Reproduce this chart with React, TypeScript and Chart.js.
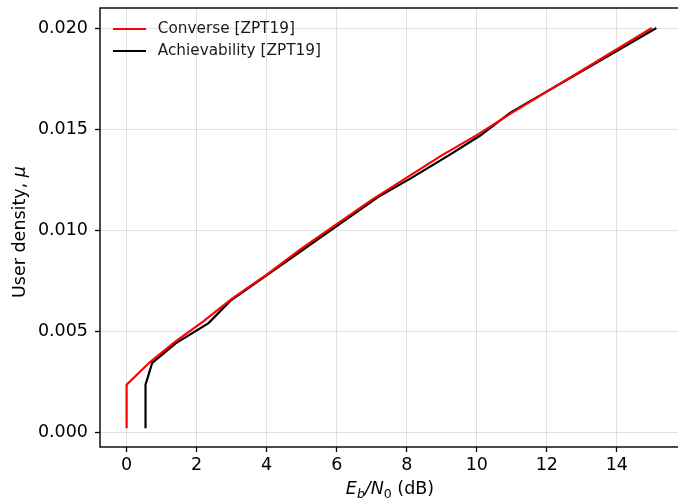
import React, { useEffect, useRef } from "react";
import { Chart, registerables } from "chart.js";

Chart.register(...registerables);

const converseX = [0, 0, 0.66, 1.4, 2.2, 3.0, 4.0, 5.0, 6.0, 7.0, 8.0, 9.0, 10.0, 11.0, 12.0, 13.0, 14.0, 15.0];
const converseY = [0.0002, 0.00235, 0.00346, 0.0045, 0.0055, 0.0066, 0.0078, 0.0091, 0.0103, 0.0115, 0.0126, 0.0137, 0.0147, 0.0158, 0.01685, 0.0179, 0.01895, 0.02];

const achX = [0.54, 0.54, 0.73, 1.4, 2.34, 2.96, 7.19, 8.1, 9.2, 10.1, 10.95, 15.13];
const achY = [0.0002, 0.00235, 0.00343, 0.0044, 0.0054, 0.0065, 0.01165, 0.01255, 0.0137, 0.01468, 0.0158, 0.02];

const xTicks = [0, 2, 4, 6, 8, 10, 12, 14];
const yTicks = [0, 0.005, 0.01, 0.015, 0.02];

const seriesNames = ["Converse [ZPT19]", "Achievability [ZPT19]"];
const seriesColors = ["#ff0000", "#000000"];

const X_MIN = -0.76;
const X_MAX = 15.89;
const Y_MIN = -0.00073;
const Y_MAX = 0.02099;

const FONT = "'DejaVu Sans', sans-serif";

const decorPlugin = {
  id: "decor",
  afterDraw(chart: any) {
    const ctx = chart.ctx as CanvasRenderingContext2D;
    const a = chart.chartArea;
    ctx.save();
    // frame
    ctx.strokeStyle = "#000";
    ctx.lineWidth = 1.4;
    ctx.strokeRect(a.left, a.top, a.right - a.left, a.bottom - a.top);

    // legend
    const lx0 = 113, lx1 = 146, tx = 157.7;
    const rows = [29, 51];
    ctx.font = `15.3px ${FONT}`;
    ctx.textBaseline = "middle";
    ctx.textAlign = "left";
    seriesNames.forEach((name, i) => {
      ctx.strokeStyle = seriesColors[i];
      ctx.lineWidth = 2.2;
      ctx.beginPath();
      ctx.moveTo(lx0, rows[i]);
      ctx.lineTo(lx1, rows[i]);
      ctx.stroke();
      ctx.fillStyle = "#1a1a1a";
      ctx.fillText(name, tx, rows[i] + 0.5);
    });

    // x title with subscripts
    const parts: [string, string, number][] = [
      ["E", `italic 17.5px ${FONT}`, 0],
      ["b", `italic 12.5px ${FONT}`, 3.5],
      ["/", `italic 17.5px ${FONT}`, 0],
      ["N", `italic 17.5px ${FONT}`, 0],
      ["0", `12.5px ${FONT}`, 3.5],
      [" (dB)", `17.5px ${FONT}`, 0],
    ];
    ctx.fillStyle = "#000";
    ctx.textBaseline = "alphabetic";
    let total = 0;
    parts.forEach(([t, f]) => {
      ctx.font = f;
      total += ctx.measureText(t).width;
    });
    let x = 390 - total / 2;
    const base = 494;
    parts.forEach(([t, f, dy]) => {
      ctx.font = f;
      ctx.fillText(t, x, base + dy);
      x += ctx.measureText(t).width;
    });

    // y title
    ctx.save();
    ctx.translate(24.5, 232);
    ctx.rotate(-Math.PI / 2);
    const yp: [string, string][] = [
      ["User density, ", `17.5px ${FONT}`],
      ["\u03bc", `italic 17.5px ${FONT}`],
    ];
    let tw = 0;
    yp.forEach(([t, f]) => {
      ctx.font = f;
      tw += ctx.measureText(t).width;
    });
    let yx = -tw / 2;
    yp.forEach(([t, f]) => {
      ctx.font = f;
      ctx.fillText(t, yx, 0);
      yx += ctx.measureText(t).width;
    });
    ctx.restore();
    ctx.restore();
  },
};

export default function App() {
  const ref = useRef<HTMLCanvasElement>(null);
  useEffect(() => {
    if (!ref.current) return;
    const toPts = (xs: number[], ys: number[]) => xs.map((v, i) => ({ x: v, y: ys[i] }));
    const chart = new Chart(ref.current, {
      type: "line",
      data: {
        datasets: [
          {
            label: seriesNames[0],
            data: toPts(converseX, converseY),
            borderColor: seriesColors[0],
            borderWidth: 2.2,
            pointRadius: 0,
            fill: false,
            tension: 0,
          },
          {
            label: seriesNames[1],
            data: toPts(achX, achY),
            borderColor: seriesColors[1],
            borderWidth: 2.2,
            pointRadius: 0,
            fill: false,
            tension: 0,
          },
        ],
      },
      options: {
        animation: false,
        responsive: false,
        devicePixelRatio: 1,
        parsing: false,
        layout: { padding: { left: 0, top: 8, right: 1, bottom: 0 } },
        plugins: { legend: { display: false }, tooltip: { enabled: false } },
        scales: {
          x: {
            type: "linear",
            min: X_MIN,
            max: X_MAX,
            afterBuildTicks: (s: any) => {
              s.ticks = xTicks.map((v) => ({ value: v }));
            },
            afterFit: (s: any) => {
              s.height = 52;
              s.paddingLeft = 0;
              s.paddingRight = 0;
            },
            grid: {
              color: "rgba(0,0,0,0.11)",
              lineWidth: 1,
              drawTicks: true,
              tickLength: 5,
              tickColor: "#000",
              tickWidth: 1.3,
            },
            border: { display: false },
            ticks: {
              color: "#000",
              font: { family: FONT, size: 17.5 },
              padding: 3,
              maxRotation: 0,
              autoSkip: false,
              callback: (v: any) => String(v),
            },
          },
          y: {
            type: "linear",
            min: Y_MIN,
            max: Y_MAX,
            afterBuildTicks: (s: any) => {
              s.ticks = yTicks.map((v) => ({ value: v }));
            },
            afterFit: (s: any) => {
              s.width = 100;
              s.paddingTop = 0;
              s.paddingBottom = 0;
            },
            grid: {
              color: "rgba(0,0,0,0.11)",
              lineWidth: 1,
              drawTicks: true,
              tickLength: 5,
              tickColor: "#000",
              tickWidth: 1.3,
            },
            border: { display: false },
            ticks: {
              color: "#000",
              font: { family: FONT, size: 17.5 },
              padding: 7,
              autoSkip: false,
              callback: (v: any) => Number(v).toFixed(3),
            },
          },
        },
      },
      plugins: [decorPlugin],
    });
    return () => chart.destroy();
  }, []);
  return (
    <div style={{ position: "fixed", left: 0, top: 0, width: 684, height: 499, background: "#fff" }}>
      <canvas ref={ref} width={684} height={499} style={{ display: "block" }} />
    </div>
  );
}
